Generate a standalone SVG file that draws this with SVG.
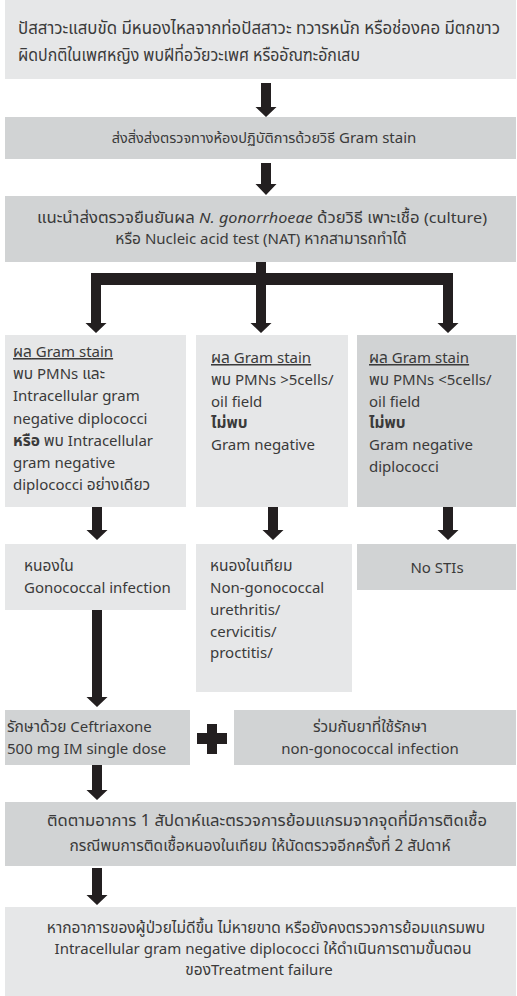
<svg xmlns="http://www.w3.org/2000/svg" width="517" height="996" viewBox="0 0 517 996">
<style>
.light{fill:#e6e7e8}
.dark{fill:#d1d3d4}
.arw{fill:#231f20}
text{font-family:"Noto Sans","Noto Sans Thai","Liberation Sans",sans-serif;font-size:15px;fill:#3a3a3a}
.t{font-size:15.5px}
.big{font-size:17px}
.c{text-anchor:middle}
.b{font-weight:bold}
.u{text-decoration:underline}
</style>
<rect x="0" y="0" width="517" height="996" fill="#ffffff"/>
<g id="n1"><rect class="light" x="5" y="0" width="511" height="79"/>
<text class="big" x="18" y="34" textLength="482" lengthAdjust="spacingAndGlyphs">ปัสสาวะแสบขัด มีหนองไหลจากท่อปัสสาวะ ทวารหนัก หรือช่องคอ มีตกขาว</text>
<text class="big" x="18" y="61" textLength="342" lengthAdjust="spacingAndGlyphs">ผิดปกติในเพศหญิง พบฝีที่อวัยวะเพศ หรืออัณฑะอักเสบ</text></g>
<g id="n2"><rect class="dark" x="5" y="117" width="511" height="42"/>
<text class="c" x="264" y="143"><tspan font-size="14.5px">ส่งสิ่งส่งตรวจทางห้องปฏิบัติการด้วยวิธี</tspan> Gram stain</text></g>
<g id="n3"><rect class="dark" x="5" y="196" width="511" height="66"/>
<text class="c" x="262" y="223" textLength="450" lengthAdjust="spacingAndGlyphs"><tspan class="t">แนะนำส่งตรวจยืนยันผล </tspan><tspan font-style="italic">N. gonorrhoeae</tspan><tspan class="t"> ด้วยวิธี เพาะเชื้อ </tspan>(culture)</text>
<text class="c" x="261" y="244"><tspan class="t">หรือ </tspan>Nucleic acid test (NAT) <tspan class="t">หากสามารถทำได้</tspan></text></g>
<g id="c1"><rect class="light" x="5" y="335" width="181" height="172"/>
<text x="13" y="357" class="u"><tspan class="t">ผล</tspan> Gram stain</text>
<text x="13" y="379"><tspan class="t">พบ</tspan> PMNs <tspan class="t">และ</tspan></text>
<text x="13" y="401">Intracellular gram</text>
<text x="13" y="424">negative diplococci</text>
<text x="13" y="446"><tspan class="t b">หรือ</tspan> <tspan class="t">พบ</tspan> Intracellular</text>
<text x="13" y="468">gram negative</text>
<text x="13" y="490">diplococci <tspan class="t">อย่างเดียว</tspan></text></g>
<g id="c2"><rect class="light" x="196" y="335" width="152" height="172"/>
<text x="211" y="363" class="u"><tspan class="t">ผล</tspan> Gram stain </text>
<text x="211" y="385"><tspan class="t">พบ</tspan> PMNs &gt;5cells/</text>
<text x="211" y="407">oil field</text>
<text x="211" y="428" class="t b">ไม่พบ</text>
<text x="211" y="450">Gram negative</text></g>
<g id="c3"><rect class="dark" x="357" y="335" width="159" height="172"/>
<text x="369" y="363" class="u"><tspan class="t">ผล</tspan> Gram stain</text>
<text x="369" y="385"><tspan class="t">พบ</tspan> PMNs &lt;5cells/</text>
<text x="369" y="407">oil field</text>
<text x="369" y="428" class="t b">ไม่พบ</text>
<text x="369" y="450">Gram negative</text>
<text x="369" y="472">diplococci</text></g>
<g id="d1"><rect class="light" x="5" y="544" width="181" height="66"/>
<text x="24" y="571" class="t">หนองใน</text>
<text x="24" y="593">Gonococcal infection</text></g>
<g id="d2"><rect class="light" x="196" y="544" width="156" height="148"/>
<text x="210" y="571" class="t">หนองในเทียม</text>
<text x="210" y="593">Non-gonococcal</text>
<text x="210" y="615">urethritis/</text>
<text x="210" y="637">cervicitis/</text>
<text x="210" y="658">proctitis/</text></g>
<g id="d3"><rect class="dark" x="357" y="544" width="159" height="46"/>
<text class="c" x="437" y="573">No STIs</text></g>
<g id="e1"><rect class="dark" x="5" y="710" width="185" height="55"/>
<text x="7" y="732"><tspan class="t">รักษาด้วย</tspan> Ceftriaxone</text>
<text x="7" y="754">500 mg IM single dose</text></g>
<g id="plus"><rect class="arw" x="197" y="733" width="30" height="11"/><rect class="arw" x="207" y="724" width="10" height="30"/></g>
<g id="e2"><rect class="dark" x="234" y="710" width="282" height="55"/>
<text class="c t" x="370" y="732">ร่วมกับยาที่ใช้รักษา</text>
<text class="c" x="370" y="754">non-gonococcal infection</text></g>
<g id="f"><rect class="dark" x="5" y="802" width="511" height="64"/>
<text class="c t" x="267" y="826" textLength="440" lengthAdjust="spacingAndGlyphs">ติดตามอาการ 1 สัปดาห์และตรวจการย้อมแกรมจากจุดที่มีการติดเชื้อ</text>
<text class="c t" x="260" y="851">กรณีพบการติดเชื้อหนองในเทียม ให้นัดตรวจอีกครั้งที่ 2 สัปดาห์</text></g>
<g id="g"><rect class="light" x="5" y="907" width="511" height="89"/>
<text class="c t" x="266" y="933">หากอาการของผู้ป่วยไม่ดีขึ้น ไม่หายขาด หรือยังคงตรวจการย้อมแกรมพบ</text>
<text class="c" x="263" y="954">Intracellular gram negative diplococci <tspan class="t">ให้ดำเนินการตามขั้นตอน</tspan></text>
<text class="c" x="259" y="975"><tspan class="t">ของ</tspan>Treatment failure</text></g>
<g id="connectors" class="arw">
<path d="M261 83H271V107H276.5L266 117L255.5 107H261Z"/>
<path d="M261 163H271V184H276.5L266 195L255.5 184H261Z"/>
<path d="M256 262H266V273H453V323H458.5L448 333L437.5 323H443V285H266V323H271.5L261 333L250.5 323H256V285H101V323H106.5L96 333L85.5 323H91V273H256Z"/>
<path d="M92 507H102V530H107.5L97 540L86.5 530H92Z"/>
<path d="M268 507H278V530H283.5L273 540L262.5 530H268Z"/>
<path d="M443 507H453V530H458.5L448 540L437.5 530H443Z"/>
<path d="M92 610H102V697H107.5L97 707L86.5 697H92Z"/>
<path d="M92 765H102V790H107.5L97 800L86.5 790H92Z"/>
<path d="M92 868H102V895H107.5L97 905L86.5 895H92Z"/>
</g>
</svg>
